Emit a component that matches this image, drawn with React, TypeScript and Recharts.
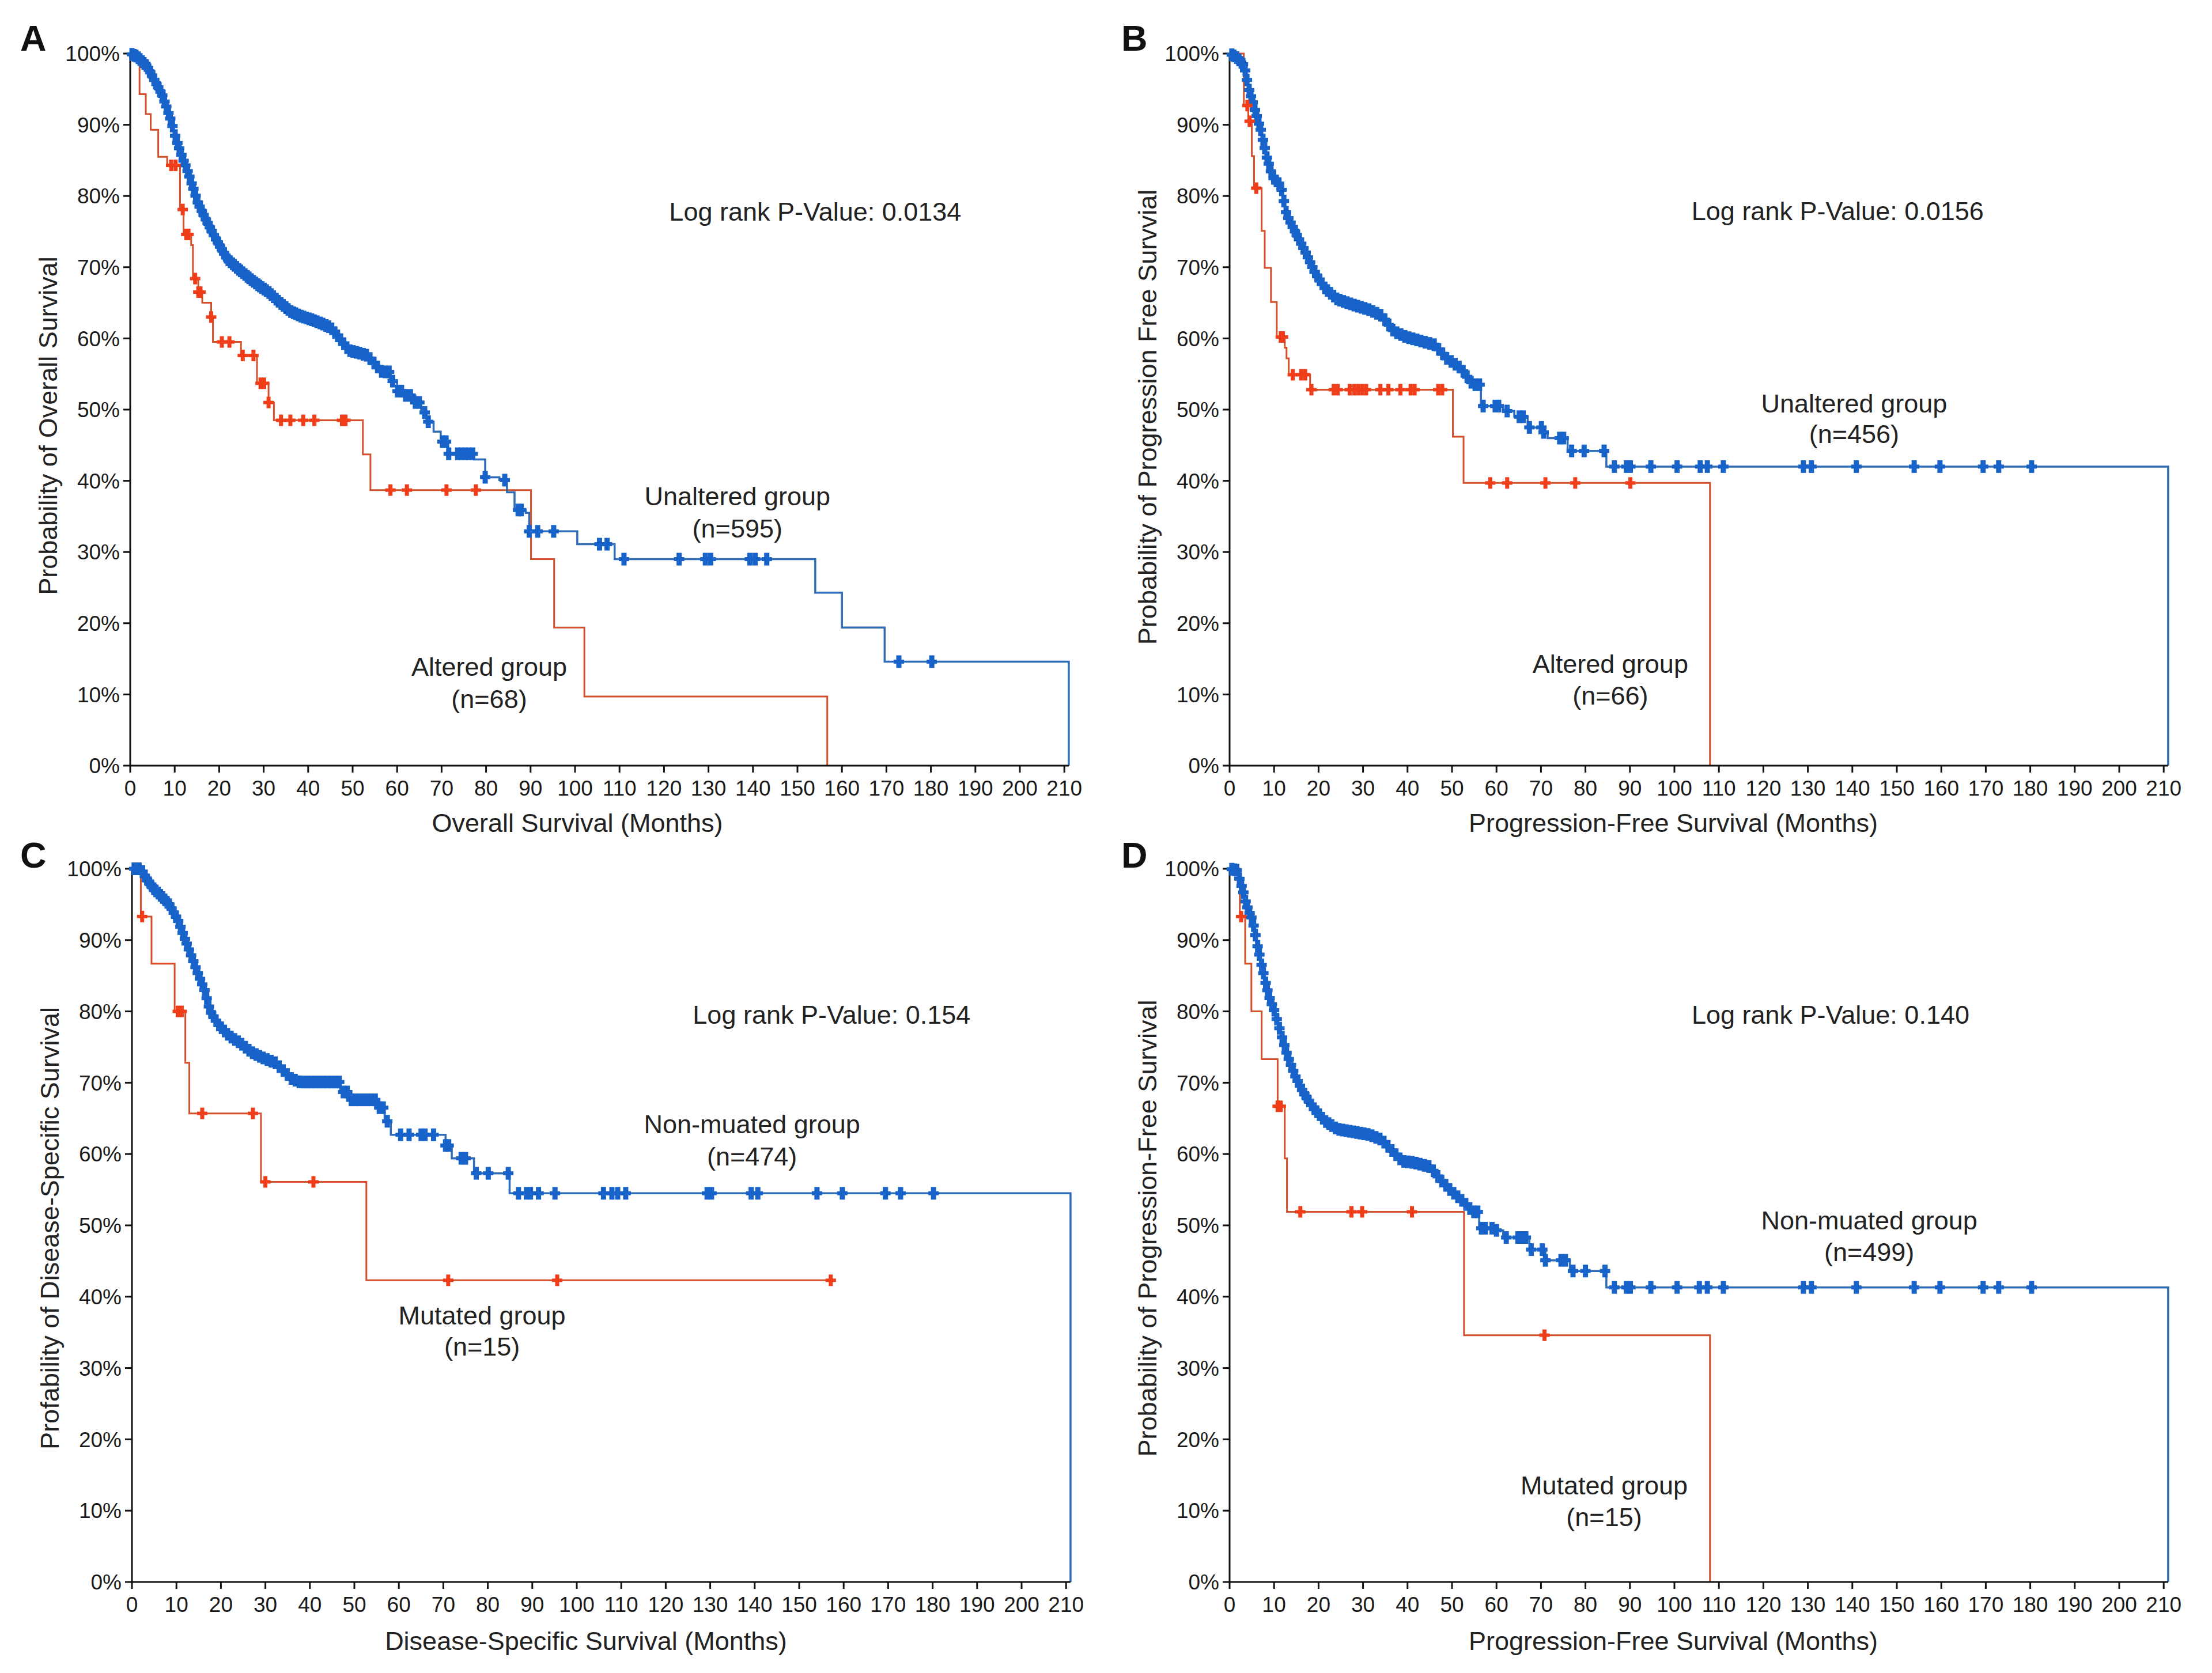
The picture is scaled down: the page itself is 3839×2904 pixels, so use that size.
import React from 'react';
import { ComposedChart, Line, Scatter, XAxis, YAxis, ReferenceDot } from 'recharts';

const xTicks = [0, 10, 20, 30, 40, 50, 60, 70, 80, 90, 100, 110, 120, 130, 140, 150, 160, 170, 180, 190, 200, 210];
const yTicks = [0, 10, 20, 30, 40, 50, 60, 70, 80, 90, 100];

// Panel A - overall survival (months, % surviving)
const osUnaltered: [number, number][] = [
  [0, 100], [1.5, 99.6], [3.8, 98.2], [5.5, 96.2], [7.1, 94.3], [8.2, 92.4], [9.2, 90.5], [10.4, 87.8],
  [11.6, 85.6], [12.9, 83.5], [14.1, 81.2], [15.3, 78.9], [17.0, 76.7], [18.7, 74.6], [20.3, 72.8],
  [21.9, 71.1], [24.4, 69.7], [26.9, 68.4], [29.0, 67.4], [31.1, 66.5], [33.5, 65.1], [36.0, 63.8],
  [38.5, 63.1], [40.9, 62.6], [43.0, 62.1], [45.1, 61.5], [47.2, 59.9], [49.2, 58.3], [51.2, 58.0],
  [53.3, 57.6], [55.0, 56.4], [56.6, 55.3], [58.3, 54.0], [60.0, 52.6], [61.6, 52.0], [64.1, 51.0],
  [65.4, 49.6], [66.6, 48.3], [68.2, 46.9], [69.8, 45.5], [71.5, 43.8], [77.3, 43.0], [79.8, 40.5],
  [83.0, 40.1], [84.7, 38.4], [86.4, 35.9], [88.9, 35.5], [89.7, 32.9], [100.5, 31.1], [108.9, 29.0],
  [154.0, 24.3], [160.0, 19.4], [169.6, 14.6], [211, 14.6], [211, 0],
];
const osUnalteredCensor = [
  0.4, 0.9, 1.3, 1.8, 2.2, 2.7, 3.1, 3.6, 4.0, 4.5, 4.9, 5.4, 5.9, 6.3, 6.8, 7.2, 7.7, 8.1, 8.6, 9.0,
  9.5, 10.1, 10.6, 11.0, 11.5, 12.0, 12.4, 12.9, 13.3, 13.8, 14.2, 14.7, 15.2, 15.6, 16.1, 16.5, 17.0,
  17.4, 17.9, 18.3, 18.8, 19.3, 19.7, 20.2, 20.6, 21.1, 21.6, 22.0, 22.5, 23.0, 23.4, 23.9, 24.4, 24.8,
  25.3, 25.8, 26.3, 26.7, 27.2, 27.7, 28.2, 28.7, 29.1, 29.6, 30.1, 30.6, 31.2, 31.7, 32.2, 32.8, 33.3,
  33.9, 34.4, 35.0, 35.5, 36.1, 36.7, 37.2, 37.8, 38.4, 39.0, 39.6, 40.2, 40.8, 41.4, 42.0, 42.7, 43.3,
  44.0, 44.6, 45.3, 46.0, 46.6, 47.3, 48.0, 48.7, 49.4, 50.1, 50.9, 51.6, 52.4, 53.1, 53.9, 54.8, 55.6,
  56.5, 57.3, 58.2, 59.0, 60.1, 61.0, 61.9, 63.0, 64.1, 65.0, 66.2, 67.0, 70.2, 71.0, 71.6, 73.6, 74.4,
  75.2, 76.1, 77.0, 79.8, 84.2, 87.2, 87.9, 89.7, 91.6, 95.2, 105.5, 107.2, 111.0, 123.4, 129.3, 130.5,
  139.3, 140.5, 143.1, 172.8, 180.2,
];
const osAltered: [number, number][] = [
  [0, 100], [2.1, 94.3], [3.5, 91.5], [4.6, 89.3], [6.3, 85.5], [8.3, 84.3], [11.2, 78.1], [12.0, 74.6],
  [13.7, 73.1], [14.1, 68.4], [15.3, 66.5], [16.2, 65.0], [18.2, 63.0], [18.6, 59.5], [24.9, 57.6],
  [28.5, 53.7], [31.1, 51.0], [32.3, 48.5], [52.3, 43.7], [54.0, 38.7], [90.1, 29.0], [95.3, 19.4],
  [102.1, 9.7], [156.7, 9.7], [156.7, 0],
];
const osAlteredCensor = [
  9.2, 10.2, 11.8, 12.6, 13.1, 14.6, 15.3, 15.8, 18.2, 20.6, 22.3, 25.3, 27.7, 29.3, 30.1, 31.1, 33.9,
  36.0, 38.9, 41.4, 47.6, 48.4, 58.5, 62.2, 71.1, 77.7,
];

// Panel B - progression free survival
const pfsUnaltered: [number, number][] = [
  [0, 100], [1.5, 99.5], [3.3, 98.3], [4.2, 95.3], [5.6, 92.3], [7.0, 89.3], [8.3, 85.6], [9.7, 82.6],
  [11.5, 81.5], [12.8, 77.4], [15.2, 74.4], [17.0, 72.2], [19.2, 69.2], [21.5, 67.0], [24.2, 65.5],
  [27.9, 64.7], [31.5, 64.0], [34.2, 63.2], [36.9, 61.0], [39.7, 60.2], [46.1, 59.1], [48.8, 57.2],
  [52.0, 55.8], [54.7, 53.5], [56.5, 50.5], [61.5, 49.8], [64.0, 49.0], [67.0, 47.5], [70.6, 46.8],
  [71.5, 46.0], [76.0, 44.2], [84.7, 42.0], [211, 42.0], [211, 0],
];
const pfsUnalteredCensor = [
  0.5, 1.0, 1.6, 2.1, 2.6, 3.0, 3.5, 3.9, 4.4, 4.8, 5.2, 5.7, 6.1, 6.6, 7.0, 7.5, 7.9, 8.4, 8.8, 9.3,
  9.9, 10.5, 11.1, 11.7, 12.2, 12.7, 13.2, 13.7, 14.2, 14.7, 15.1, 15.6, 16.1, 16.6, 17.1, 17.6, 18.1,
  18.6, 19.1, 19.7, 20.2, 20.8, 21.4, 22.0, 22.7, 23.4, 24.1, 24.8, 25.6, 26.4, 27.2, 28.0, 28.8, 29.6,
  30.4, 31.3, 32.2, 33.1, 34.0, 34.9, 35.8, 36.7, 37.6, 38.5, 39.4, 40.3, 41.2, 42.1, 43.0, 44.0, 45.0,
  46.0, 47.0, 47.9, 48.8, 49.8, 50.7, 51.6, 52.5, 53.4, 54.3, 55.2, 56.2, 57.0, 59.7, 60.5, 62.4, 65.1,
  66.0, 67.4, 70.1, 70.6, 74.2, 75.1, 76.9, 79.7, 84.2, 86.5, 89.2, 90.1, 94.7, 100.6, 105.8, 107.4,
  111.0, 129.0, 130.8, 140.9, 153.9, 159.7, 169.4, 172.9, 180.3,
];
const pfsAltered: [number, number][] = [
  [0, 100], [3.2, 92.7], [4.2, 90.5], [5.0, 85.6], [5.5, 81.1], [7.2, 75.1], [7.9, 69.9], [9.3, 65.1],
  [10.6, 60.2], [12.4, 58.7], [12.8, 57.2], [13.3, 54.9], [18.1, 52.8], [50.2, 46.2], [52.6, 39.7],
  [108, 39.7], [108, 0],
];
const pfsAlteredCensor = [
  4.0, 4.5, 6.0, 11.5, 12.0, 14.2, 16.1, 17.0, 18.4, 23.4, 24.3, 27.0, 28.0, 28.9, 29.8, 30.7, 33.9,
  35.7, 38.4, 40.7, 41.6, 46.9, 47.8, 58.6, 62.4, 71.0, 77.7, 90.1,
];

// Panel C - disease specific survival
const dssNonMut: [number, number][] = [
  [0, 100], [2.1, 100], [3.1, 98.7], [4.9, 97.2], [6.7, 96.1], [8.5, 94.9], [10.4, 92.7], [11.7, 90.5],
  [13.1, 88.2], [14.9, 85.2], [16.3, 83.0], [17.6, 80.0], [19.5, 78.1], [21.8, 76.6], [24.5, 75.5],
  [26.8, 74.3], [29.0, 73.6], [32.2, 72.8], [34.0, 71.7], [35.8, 70.6], [37.7, 70.1], [45.0, 70.1],
  [46.8, 68.7], [48.6, 67.6], [53.2, 67.6], [55.0, 66.5], [56.8, 64.6], [58.2, 62.7], [70.5, 61.2],
  [71.9, 59.4], [76.9, 57.3], [84.9, 54.5], [211, 54.5], [211, 0],
];
const dssNonMutCensor = [
  0.5, 1.0, 1.6, 2.4, 2.9, 3.4, 3.9, 4.4, 4.9, 5.4, 5.9, 6.4, 6.9, 7.4, 7.9, 8.4, 8.9, 9.4, 9.9, 10.4,
  10.9, 11.4, 11.9, 12.3, 12.8, 13.3, 13.8, 14.3, 14.8, 15.3, 15.8, 16.3, 16.8, 17.3, 17.8, 18.3, 18.9,
  19.5, 20.1, 20.8, 21.5, 22.3, 23.1, 23.9, 24.7, 25.5, 26.3, 27.1, 27.9, 28.7, 29.5, 30.4, 31.3, 32.2,
  33.1, 34.0, 34.9, 35.8, 36.7, 37.6, 38.5, 39.4, 40.3, 41.2, 42.1, 43.0, 43.9, 44.8, 45.7, 46.6, 47.5,
  48.4, 49.3, 50.2, 51.1, 52.0, 52.9, 53.8, 54.7, 55.6, 56.5, 57.4, 60.4, 62.3, 65.0, 65.9, 67.8, 70.5,
  71.2, 74.0, 75.0, 77.4, 80.1, 84.6, 86.9, 88.7, 89.6, 91.4, 95.1, 106.0, 107.9, 109.2, 111.0, 129.3,
  130.3, 139.2, 140.7, 154.0, 159.7, 169.4, 172.8, 180.2,
];
const dssMut: [number, number][] = [
  [0, 100], [2.0, 93.3], [4.4, 86.7], [9.6, 80.0], [12.0, 72.8], [12.9, 65.7], [29.0, 56.1],
  [52.7, 42.3], [157.1, 42.3],
];
const dssMutCensor = [2.3, 10.3, 11.2, 15.8, 27.2, 30.0, 40.8, 71.1, 95.6, 157.1];

// Panel D - progression free survival, mutation split
const pfsNonMut: [number, number][] = [
  [0, 100], [1.6, 99.8], [2.9, 97.2], [3.8, 94.9], [5.2, 92.7], [6.1, 89.7], [7.0, 87.1], [7.9, 84.5],
  [8.8, 82.2], [10.1, 80.0], [11.5, 77.0], [12.9, 74.0], [14.7, 71.0], [16.5, 68.7], [18.8, 66.5],
  [21.5, 64.6], [24.2, 63.5], [27.9, 63.1], [31.5, 62.7], [34.2, 62.0], [36.5, 60.5], [38.8, 59.0],
  [41.5, 58.8], [45.1, 58.2], [47.4, 56.4], [49.7, 54.9], [52.4, 53.4], [54.7, 51.9], [56.1, 49.6],
  [59.7, 49.3], [61.5, 48.3], [67.4, 46.6], [71.0, 45.1], [76.5, 43.6], [84.7, 41.3], [211, 41.3], [211, 0],
];
const pfsNonMutCensor = [
  0.5, 1.1, 1.6, 2.2, 2.7, 3.1, 3.6, 4.0, 4.5, 4.9, 5.4, 5.8, 6.3, 6.7, 7.2, 7.6, 8.1, 8.5, 9.0, 9.5,
  10.0, 10.6, 11.2, 11.8, 12.3, 12.8, 13.3, 13.8, 14.3, 14.8, 15.3, 15.8, 16.3, 16.8, 17.3, 17.8, 18.4,
  19.0, 19.6, 20.2, 20.9, 21.6, 22.3, 23.0, 23.8, 24.6, 25.4, 26.2, 27.0, 27.8, 28.6, 29.4, 30.2, 31.1,
  32.0, 32.9, 33.8, 34.7, 35.6, 36.5, 37.4, 38.3, 39.2, 40.1, 41.0, 41.9, 42.8, 43.8, 44.8, 45.8, 46.8,
  47.7, 48.6, 49.5, 50.4, 51.3, 52.2, 53.1, 54.0, 54.9, 55.8, 56.6, 57.5, 59.0, 60.0, 62.2, 64.8, 65.8,
  66.6, 67.8, 70.3, 71.0, 74.5, 75.5, 77.2, 80.0, 84.4, 86.5, 89.2, 90.1, 94.7, 100.6, 105.6, 107.4,
  111.0, 129.0, 130.8, 140.9, 153.9, 159.7, 169.4, 172.9, 180.3,
];
const pfsMut: [number, number][] = [
  [0, 100], [2.3, 93.3], [3.5, 86.7], [4.9, 80.0], [7.2, 73.3], [10.8, 66.7], [12.4, 59.4], [12.9, 51.9],
  [52.7, 34.6], [108, 34.6], [108, 0],
];
const pfsMutCensor = [2.6, 10.8, 11.5, 15.9, 27.4, 29.8, 41.0, 70.8];

const FONT = '"Liberation Sans", Arial, Helvetica, sans-serif';
const BLUE_LINE = '#2f6cb8';
const BLUE_MARK = '#1863c9';
const RED_LINE = '#d4502b';
const RED_MARK = '#ee3d18';

const toPts = (curve: [number, number][]) => curve.map(([t, s]) => ({ t, s }));

// where many small steps blur into one smooth stroke, the curve is drawn as a polyline up to `smooth`
const head = (curve: [number, number][], smooth: number) => curve.filter(([t]) => t <= smooth);
const tail = (curve: [number, number][], smooth: number) => curve.filter(([t]) => t >= smooth);

// censor marks sit on the drawn curve at the given time
const onCurve = (curve: [number, number][], times: number[], smooth = 0) =>
  times.map((t) => {
    if (t < smooth) {
      for (let i = 1; i < curve.length; i++) {
        const [t0, s0] = curve[i - 1];
        const [t1, s1] = curve[i];
        if (t >= t0 && t <= t1) {
          return { t, s: t1 === t0 ? s1 : s0 + ((s1 - s0) * (t - t0)) / (t1 - t0) };
        }
      }
    }
    let s = curve[0][1];
    for (const [ct, cs] of curve) {
      if (ct <= t) s = cs;
    }
    return { t, s };
  });

const plus = (color: string, w: number, h: number, arm: number, thick: number) => (props: any) => {
  const { cx, cy } = props;
  if (cx == null || cy == null) return <g />;
  return (
    <g>
      <rect x={cx - w / 2} y={cy - h / 2} width={w} height={h} fill={color} />
      <rect x={cx - arm / 2} y={cy - thick / 2} width={arm} height={thick} fill={color} />
    </g>
  );
};

interface Note {
  x: number;
  y: number;
  text: string;
}

interface PanelProps {
  left: number;
  top: number;
  width: number;
  height: number;
  marginTop: number;
  axisWidth: number;
  axisHeight: number;
  blue: [number, number][];
  blueCensor: number[];
  smooth: number;
  red: [number, number][];
  redCensor: number[];
  notes: Note[];
}

const KMPanel: React.FC<PanelProps> = (p) => {
  const plotW = 211 * 7.72;
  const right = p.width - p.axisWidth - plotW;
  return (
    <div style={{ position: 'absolute', left: p.left, top: p.top }}>
      <ComposedChart
        width={p.width}
        height={p.height}
        margin={{ top: p.marginTop, right, bottom: 0, left: 0 }}
      >
        <XAxis
          type="number"
          dataKey="t"
          domain={[0, 211]}
          ticks={xTicks}
          interval={0}
          height={p.axisHeight}
          tickSize={12}
          tickMargin={14}
          axisLine={{ stroke: '#111', strokeWidth: 3 }}
          tickLine={{ stroke: '#111', strokeWidth: 3 }}
          tick={{ fontSize: 37, fill: '#1a1a1a', fontFamily: FONT }}
          allowDuplicatedCategory={false}
        />
        <YAxis
          type="number"
          dataKey="s"
          domain={[0, 100]}
          ticks={yTicks}
          interval={0}
          width={p.axisWidth}
          tickSize={12}
          tickMargin={6}
          axisLine={{ stroke: '#111', strokeWidth: 3 }}
          tickLine={{ stroke: '#111', strokeWidth: 3 }}
          tickFormatter={(v: number) => `${v}%`}
          tick={{ fontSize: 37, fill: '#1a1a1a', fontFamily: FONT }}
        />
        <Line
          data={toPts(p.red)}
          dataKey="s"
          type="stepAfter"
          stroke={RED_LINE}
          strokeWidth={3}
          dot={false}
          activeDot={false}
          isAnimationActive={false}
        />
        <Line
          data={toPts(head(p.blue, p.smooth))}
          dataKey="s"
          type="linear"
          stroke={BLUE_LINE}
          strokeWidth={3.5}
          dot={false}
          activeDot={false}
          isAnimationActive={false}
        />
        <Line
          data={toPts(tail(p.blue, p.smooth))}
          dataKey="s"
          type="stepAfter"
          stroke={BLUE_LINE}
          strokeWidth={3.5}
          dot={false}
          activeDot={false}
          isAnimationActive={false}
        />
        <Scatter
          data={onCurve(p.blue, p.blueCensor, p.smooth)}
          dataKey="s"
          shape={plus(BLUE_MARK, 9, 22, 18, 7)}
          isAnimationActive={false}
        />
        <Scatter
          data={onCurve(p.red, p.redCensor)}
          dataKey="s"
          shape={plus(RED_MARK, 7, 20, 18, 6)}
          isAnimationActive={false}
        />
        {p.notes.map((n, i) => (
          <ReferenceDot
            key={i}
            x={n.x}
            y={n.y}
            r={0}
            fill="none"
            stroke="none"
            ifOverflow="visible"
            label={{ value: n.text, position: 'center', fontSize: 45, fill: '#222', fontFamily: FONT }}
          />
        ))}
      </ComposedChart>
    </div>
  );
};

const titleStyle = { fontFamily: FONT, fontSize: 45 };

const App: React.FC = () => {
  return (
    <div style={{ position: 'absolute', left: 0, top: 0, width: 3839, height: 2904, background: '#fff' }}>
      <KMPanel
        left={0} top={0} width={1900} height={1460} marginTop={93} axisWidth={226} axisHeight={131}
        blue={osUnaltered} blueCensor={osUnalteredCensor} smooth={56.6}
        red={osAltered} redCensor={osAlteredCensor}
        notes={[
          { x: 154, y: 77.8, text: 'Log rank P-Value: 0.0134' },
          { x: 136.5, y: 37.9, text: 'Unaltered group' },
          { x: 136.5, y: 33.3, text: '(n=595)' },
          { x: 80.7, y: 13.9, text: 'Altered group' },
          { x: 80.7, y: 9.4, text: '(n=68)' },
        ]}
      />
      <KMPanel
        left={1900} top={0} width={1939} height={1460} marginTop={93} axisWidth={234} axisHeight={131}
        blue={pfsUnaltered} blueCensor={pfsUnalteredCensor} smooth={54.7}
        red={pfsAltered} redCensor={pfsAlteredCensor}
        notes={[
          { x: 136.7, y: 77.9, text: 'Log rank P-Value: 0.0156' },
          { x: 140.4, y: 50.9, text: 'Unaltered group' },
          { x: 140.4, y: 46.6, text: '(n=456)' },
          { x: 85.6, y: 14.3, text: 'Altered group' },
          { x: 85.6, y: 9.9, text: '(n=66)' },
        ]}
      />
      <KMPanel
        left={0} top={1450} width={1900} height={1454} marginTop={58} axisWidth={229} axisHeight={158}
        blue={dssNonMut} blueCensor={dssNonMutCensor} smooth={37.7}
        red={dssMut} redCensor={dssMutCensor}
        notes={[
          { x: 157.3, y: 79.6, text: 'Log rank P-Value: 0.154' },
          { x: 139.4, y: 64.2, text: 'Non-muated group' },
          { x: 139.4, y: 59.7, text: '(n=474)' },
          { x: 78.7, y: 37.4, text: 'Mutated group' },
          { x: 78.7, y: 33.0, text: '(n=15)' },
        ]}
      />
      <KMPanel
        left={1900} top={1450} width={1939} height={1454} marginTop={58} axisWidth={234} axisHeight={158}
        blue={pfsNonMut} blueCensor={pfsNonMutCensor} smooth={54.7}
        red={pfsMut} redCensor={pfsMutCensor}
        notes={[
          { x: 135.1, y: 79.6, text: 'Log rank P-Value: 0.140' },
          { x: 143.8, y: 50.7, text: 'Non-muated group' },
          { x: 143.8, y: 46.3, text: '(n=499)' },
          { x: 84.2, y: 13.6, text: 'Mutated group' },
          { x: 84.2, y: 9.1, text: '(n=15)' },
        ]}
      />
      <svg
        width={3839}
        height={2904}
        style={{ position: 'absolute', left: 0, top: 0, pointerEvents: 'none' }}
      >
        <g style={{ fontFamily: FONT, fontWeight: 700, fontSize: 63 }} fill="#111">
          <text x={35} y={88}>A</text>
          <text x={1946} y={88}>B</text>
          <text x={35} y={1506}>C</text>
          <text x={1946} y={1506}>D</text>
        </g>
        <g style={titleStyle} fill="#222" textAnchor="middle" dominantBaseline="central">
          <text x={1002} y={1428}>Overall Survival (Months)</text>
          <text x={2904} y={1428}>Progression-Free Survival (Months)</text>
          <text x={1017} y={2848}>Disease-Specific Survival (Months)</text>
          <text x={2904} y={2848}>Progression-Free Survival (Months)</text>
          <text transform="translate(83,739) rotate(-90)">Probability of Overall Survival</text>
          <text transform="translate(1991,724) rotate(-90)">Probability of Progression Free Survvial</text>
          <text transform="translate(86,2132) rotate(-90)">Profability of Disease-Specific Survival</text>
          <text transform="translate(1991,2132) rotate(-90)">Probability of Progression-Free Survival</text>
        </g>
      </svg>
    </div>
  );
};

export default App;
